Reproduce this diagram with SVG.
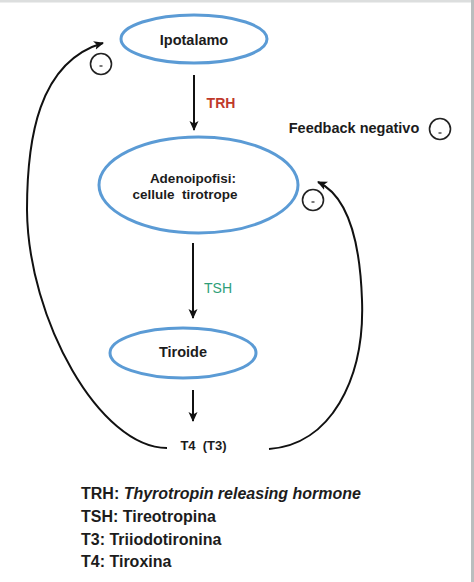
<svg xmlns="http://www.w3.org/2000/svg" width="474" height="582" viewBox="0 0 474 582">
<defs>
<style>
.node{fill:none;stroke:#5b9bd5;stroke-width:3}
.lbl{font-family:"Liberation Sans",Arial,sans-serif;font-weight:bold;fill:#1c1c1c;text-anchor:middle}
.conn{fill:none;stroke:#111;stroke-width:2}
.neg{fill:none;stroke:#222;stroke-width:1.6}
.dash{stroke:#222;stroke-width:1.2}
.leg{font-family:"Liberation Sans",Arial,sans-serif;font-weight:bold;font-size:16px;fill:#1c1c1c}
</style>
<marker id="ah" viewBox="0 0 10 10" refX="9" refY="5" markerWidth="10" markerHeight="10" markerUnits="userSpaceOnUse" orient="auto">
<path d="M0,0.5 L10,5 L0,9.5 L2.5,5 z" fill="#111"/>
</marker>
</defs>
<rect x="0" y="0" width="474" height="582" fill="#ffffff"/>
<rect x="0" y="0" width="474" height="2.5" fill="#dcdede"/>
<rect x="471" y="0" width="3" height="582" fill="#b9bebe"/>

<g id="connectors">
<line class="conn" x1="194" y1="75" x2="194" y2="130" marker-end="url(#ah)"/>
<line class="conn" x1="193" y1="243" x2="193" y2="318" marker-end="url(#ah)"/>
<line class="conn" x1="193" y1="390" x2="193" y2="421" marker-end="url(#ah)"/>
<path class="conn" d="M167 448 C100 448 28 320 27 210 C27 140 38 62 103 43" marker-end="url(#ah)"/>
<path class="conn" d="M269 449 C330 445 365 380 362 300 C360 240 348 196 318 182" marker-end="url(#ah)"/>
</g>

<g id="ipotalamo">
<ellipse class="node" cx="194" cy="39" rx="73" ry="24"/>
<text class="lbl" x="194" y="44.5" font-size="14.5">Ipotalamo</text>
</g>

<g id="trh-label">
<text class="lbl" x="221" y="108" font-size="14" style="fill:#c0392b">TRH</text>
</g>

<g id="adenoipofisi">
<ellipse class="node" cx="198.5" cy="185" rx="99.5" ry="48"/>
<text class="lbl" x="193" y="183" font-size="13.5">Adenoipofisi:</text>
<text class="lbl" x="185" y="199" font-size="13.5" xml:space="preserve">cellule  tirotrope</text>
</g>

<g id="tsh-label">
<text class="lbl" x="218" y="292.5" font-size="14" style="fill:#2e9e78;font-weight:normal">TSH</text>
</g>

<g id="tiroide">
<ellipse class="node" cx="183" cy="353" rx="73" ry="25"/>
<text class="lbl" x="183" y="357" font-size="14.5">Tiroide</text>
</g>

<g id="t4t3">
<text class="lbl" x="203.5" y="450" font-size="13" xml:space="preserve">T4  (T3)</text>
</g>

<g id="feedback">
<text class="lbl" x="354" y="133" font-size="14.5">Feedback negativo</text>
<circle class="neg" cx="440" cy="129" r="10.5"/>
<line class="dash" x1="438.5" y1="133" x2="441.5" y2="133"/>
</g>

<g id="neg1">
<circle class="neg" cx="101" cy="64" r="10.5"/>
<line class="dash" x1="99.5" y1="66" x2="102.5" y2="66"/>
</g>

<g id="neg2">
<circle class="neg" cx="313" cy="200" r="10.5"/>
<line class="dash" x1="311.5" y1="202" x2="314.5" y2="202"/>
</g>

<g id="legend">
<text class="leg" x="81" y="499">TRH: <tspan font-style="italic">Thyrotropin releasing hormone</tspan></text>
<text class="leg" x="81" y="522">TSH: Tireotropina</text>
<text class="leg" x="81" y="545">T3: Triiodotironina</text>
<text class="leg" x="81" y="567">T4: Tiroxina</text>
</g>
</svg>
